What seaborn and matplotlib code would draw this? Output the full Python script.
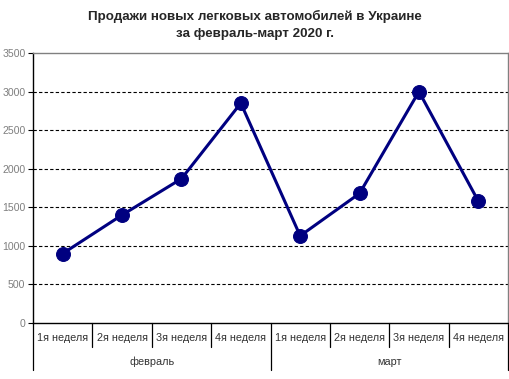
import seaborn as sns
import matplotlib.pyplot as plt
import pandas as pd
import numpy as np

sns.set_theme(style="white")
plt.rcParams["font.family"] = ["Liberation Sans", "DejaVu Sans"]

# Данные
months = ["февраль", "март"]
weeks = ["1я неделя", "2я неделя", "3я неделя", "4я неделя"]
sales_feb = [900, 1400, 1870, 2850]
sales_mar = [1130, 1680, 3000, 1580]
y_ticks = [0, 500, 1000, 1500, 2000, 2500, 3000, 3500]

df = pd.DataFrame({
    "pos": np.arange(len(weeks) * len(months)),
    "sales": sales_feb + sales_mar,
})

fig = plt.figure(figsize=(5.1, 3.79), dpi=100)
ax = fig.add_axes([33 / 510, 1 - 323 / 379, 475 / 510, 270 / 379])

sns.lineplot(data=df, x="pos", y="sales", ax=ax, color="#000080",
             marker="o", markersize=10, linewidth=2.2,
             markeredgecolor="#000080")

ax.set_xlim(-0.5, len(df) - 0.5)
ax.set_ylim(0, 3500)
ax.set_yticks(y_ticks)
ax.set_yticklabels([str(v) for v in y_ticks], fontsize=7.6, color="#7f7f7f")
ax.tick_params(axis="y", left=True, length=3.5, width=0.8, color="black", pad=2)
ax.set_xticks([])
ax.set_xlabel("")
ax.set_ylabel("")

# Сетка
for v in y_ticks[1:-1]:
    ax.axhline(v, color="black", linestyle=(0, (3, 2)), linewidth=0.8, zorder=0)

for side in ["top", "right"]:
    ax.spines[side].set_color("#808080")
    ax.spines[side].set_linewidth(1.0)
for side in ["left", "bottom"]:
    ax.spines[side].set_color("black")
    ax.spines[side].set_linewidth(1.0)

# Двухуровневая ось X
trans = ax.get_xaxis_transform()
n = len(df)
for i in range(n):
    ax.text(i, -0.056, weeks[i % len(weeks)], transform=trans, ha="center",
            va="center", fontsize=7.8, color="#333333")
for b in range(n + 1):
    edge = b % len(weeks) == 0
    y_end = -0.175 if edge else -0.09
    ax.plot([b - 0.5, b - 0.5], [0, y_end], transform=trans, color="black",
            linewidth=0.9, clip_on=False)
for m, name in enumerate(months):
    center = m * len(weeks) + (len(weeks) - 1) / 2
    ax.text(center, -0.145, name, transform=trans, ha="center", va="center",
            fontsize=7.8, color="#333333")

fig.text(0.5, 1 - 25 / 379, "Продажи новых легковых автомобилей в Украине\nза февраль-март 2020 г.",
         ha="center", va="center", fontsize=9.6, fontweight="bold",
         linespacing=1.55)

fig.savefig("out.png", dpi=100)
